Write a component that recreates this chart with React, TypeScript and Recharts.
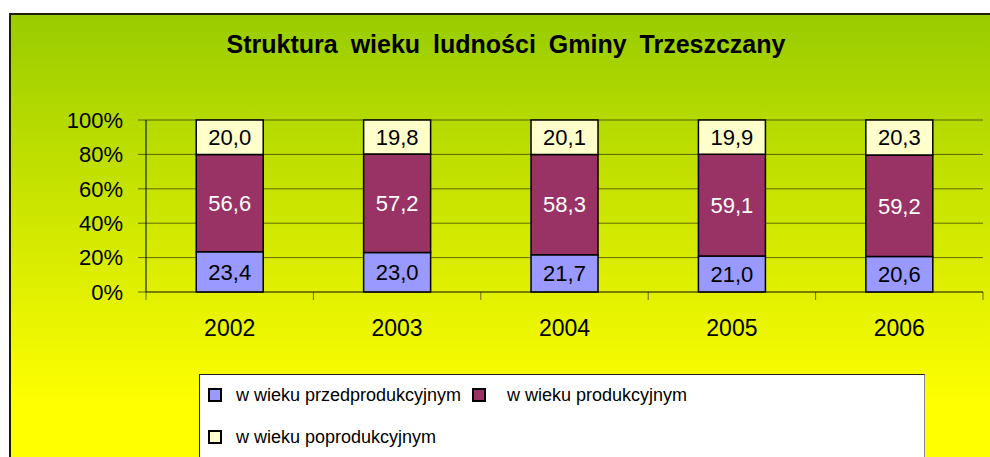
import { BarChart, Bar, XAxis, YAxis, CartesianGrid, LabelList } from 'recharts'

const YEARS = ['2002', '2003', '2004', '2005', '2006']
const PRZED = [23.4, 23.0, 21.7, 21.0, 20.6]
const PROD = [56.6, 57.2, 58.3, 59.1, 59.2]
const POPROD = [20.0, 19.8, 20.1, 19.9, 20.3]
const Y_TICKS = [0, 0.2, 0.4, 0.6, 0.8, 1]

const SERIES = [
  { key: 'przed', name: 'w wieku przedprodukcyjnym', color: '#9999ff', text: '#000' },
  { key: 'prod', name: 'w wieku produkcyjnym', color: '#993366', text: '#fff' },
  { key: 'poprod', name: 'w wieku poprodukcyjnym', color: '#ffffcc', text: '#000' },
]

const data = YEARS.map((year, i) => ({
  year,
  przed: PRZED[i],
  prod: PROD[i],
  poprod: POPROD[i],
}))

const W = 990
const H = 457
const MARGIN = { top: 120, right: 7, bottom: 125, left: 0 }
const Y_AXIS_W = 146
const PLOT_W = W - MARGIN.left - MARGIN.right - Y_AXIS_W
const FONT = '"Liberation Sans", Arial, sans-serif'
const GRID = 'rgba(0,0,0,0.55)'

const fmt = (v: any) => Number(v).toFixed(1).replace('.', ',')

function YearTick(props: any) {
  const { x, y, payload } = props
  const index = props.index ?? payload.index
  const band = PLOT_W / YEARS.length
  return (
    <g>
      <line x1={x - band / 2} x2={x - band / 2} y1={y - 8} y2={y} stroke={GRID} />
      {index === YEARS.length - 1 && (
        <line x1={x + band / 2} x2={x + band / 2} y1={y - 8} y2={y} stroke={GRID} />
      )}
      <text x={x} y={y + 36} textAnchor="middle" fontSize={23} fill="#000">
        {payload.value}
      </text>
    </g>
  )
}

export default function App() {
  return (
    <div style={{ position: 'absolute', left: 0, top: 0, width: W, height: H, overflow: 'hidden', background: '#fff', fontFamily: FONT }}>
      <div
        style={{
          position: 'absolute',
          left: 9,
          top: 13,
          width: 1000,
          height: 460,
          border: '2px solid #1e1e00',
          background: 'linear-gradient(to bottom, #99cc00 0%, #ffff00 85%, #ffff00 100%)',
        }}
      />
      <div
        style={{
          position: 'absolute',
          left: 9,
          top: 32,
          width: 994,
          textAlign: 'center',
          fontSize: 25,
          lineHeight: '25px',
          fontWeight: 'bold',
          wordSpacing: 6,
          color: '#000',
        }}
      >
        Struktura wieku ludności Gminy Trzeszczany
      </div>
      <div style={{ position: 'absolute', left: 0, top: 0 }}>
        <BarChart
          width={W}
          height={H}
          data={data}
          stackOffset="expand"
          margin={MARGIN}
          barCategoryGap="30%"
          style={{ fontFamily: FONT }}
        >
          <CartesianGrid vertical={false} stroke={GRID} />
          <YAxis
            width={Y_AXIS_W}
            domain={[0, 1]}
            ticks={Y_TICKS}
            tickFormatter={(v: number) => `${Math.round(v * 100)}%`}
            tickSize={8}
            tickMargin={15}
            tickLine={{ stroke: GRID }}
            axisLine={{ stroke: '#000' }}
            tick={{ fill: '#000', fontSize: 22 }}
          />
          <XAxis
            dataKey="year"
            height={40}
            tickSize={8}
            tickMargin={0}
            tickLine={false}
            axisLine={{ stroke: GRID }}
            tick={<YearTick />}
            interval={0}
          />
          {SERIES.map((s) => (
            <Bar
              key={s.key}
              dataKey={s.key}
              name={s.name}
              stackId="a"
              fill={s.color}
              stroke="#000"
              strokeWidth={1.5}
              isAnimationActive={false}
            >
              <LabelList dataKey={s.key} position="center" fill={s.text} fontSize={22} formatter={fmt} />
            </Bar>
          ))}
        </BarChart>
      </div>
      <div
        style={{
          position: 'absolute',
          left: 199,
          top: 374,
          width: 726,
          height: 100,
          background: '#fff',
          border: '1.5px solid #222',
          borderRightColor: '#888',
          boxSizing: 'border-box',
        }}
      >
        <div style={{ position: 'absolute', left: 8, top: 12, width: 700, display: 'flex', flexWrap: 'wrap', rowGap: 26 }}>
          {SERIES.map((s, i) => (
            <div key={s.key} style={{ width: i === 0 ? 264 : 300, display: 'flex', alignItems: 'center', height: 16 }}>
              <span
                style={{
                  width: 14,
                  height: 14,
                  boxSizing: 'border-box',
                  border: '2px solid #000',
                  background: s.color,
                  marginRight: i === 1 ? 21 : 14,
                  flex: 'none',
                }}
              />
              <span style={{ fontSize: 18, color: '#000', whiteSpace: 'nowrap' }}>{s.name}</span>
            </div>
          ))}
        </div>
      </div>
    </div>
  )
}
